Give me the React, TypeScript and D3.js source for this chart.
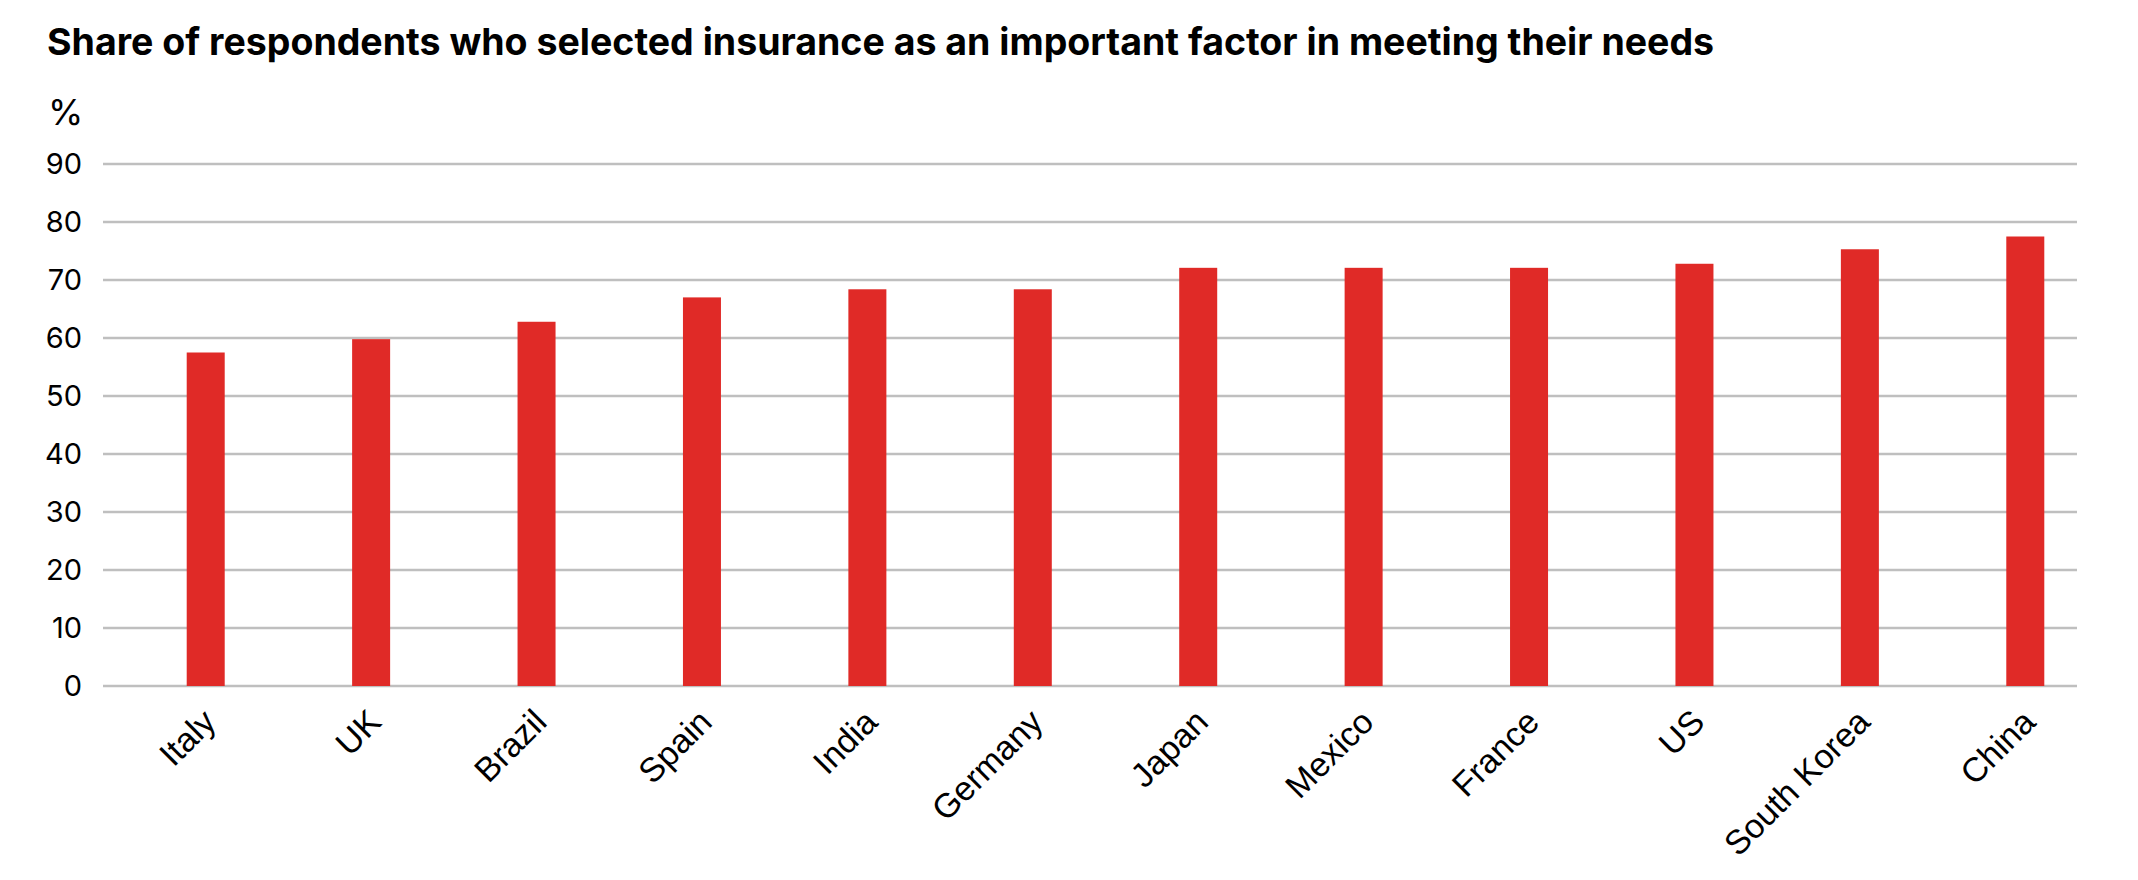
import { useEffect, useRef } from "react";
import * as d3 from "d3";

const countries = ["Italy", "UK", "Brazil", "Spain", "India", "Germany", "Japan", "Mexico", "France", "US", "South Korea", "China"];
const shares = [57.5, 59.8, 62.8, 67.0, 68.4, 68.4, 72.1, 72.1, 72.1, 72.8, 75.3, 77.5];
const yTicks = [0, 10, 20, 30, 40, 50, 60, 70, 80, 90];

const title = "Share of respondents who selected insurance as an important factor in meeting their needs";

const InsuranceChart = () => {
  const svgRef = useRef<SVGSVGElement>(null);

  useEffect(() => {
    if (!svgRef.current) return;
    const svg = d3.select(svgRef.current);
    svg.selectAll("*").remove();

    const font = "Inter, 'Noto Sans', sans-serif";
    const labelFont = "'Liberation Sans', Arial, sans-serif";
    const gridX0 = 103, gridX1 = 2077;

    const x = d3.scaleBand<string>().domain(countries).range([123, 2108]);
    const y = d3.scaleLinear().domain([0, 90]).range([686, 164]);
    const barW = 38;

    svg.append("text")
      .attr("x", 47)
      .attr("y", 55)
      .attr("font-family", font)
      .attr("font-weight", 700)
      .attr("font-size", 37.5)
      .attr("fill", "#000")
      .text(title);

    svg.append("text")
      .attr("x", 48)
      .attr("y", 125)
      .attr("font-family", font)
      .attr("font-size", 36)
      .attr("fill", "#000")
      .text("%");

    // gridlines + y labels
    const yAxis = svg.append("g");
    yAxis.selectAll("line")
      .data(yTicks)
      .join("line")
      .attr("x1", gridX0)
      .attr("x2", gridX1)
      .attr("y1", (d) => y(d))
      .attr("y2", (d) => y(d))
      .attr("stroke", "#bfbfbf")
      .attr("stroke-width", 2.5);

    yAxis.selectAll("text")
      .data(yTicks)
      .join("text")
      .attr("x", 82)
      .attr("y", (d) => y(d))
      .attr("dy", "0.36em")
      .attr("text-anchor", "end")
      .attr("font-family", font)
      .attr("font-size", 29)
      .attr("fill", "#000")
      .text((d) => d);

    svg.append("g")
      .selectAll("rect")
      .data(shares)
      .join("rect")
      .attr("x", (_, i) => x(countries[i])! + x.bandwidth() / 2 - barW / 2)
      .attr("y", (d) => y(d))
      .attr("width", barW)
      .attr("height", (d) => y(0) - y(d))
      .attr("fill", "#e02a27");

    svg.append("g")
      .selectAll("text")
      .data(countries)
      .join("text")
      .attr("transform", (d) => `translate(${x(d)! + x.bandwidth() / 2 + 12},724) rotate(-45)`)
      .attr("text-anchor", "end")
      .attr("font-family", labelFont)
      .attr("font-size", 34)
      .attr("fill", "#000")
      .text((d) => d);
  }, []);

  return <svg ref={svgRef} width={2138} height={880} style={{ display: "block", background: "#fff" }} />;
};

export default function App() {
  return (
    <div style={{ position: "absolute", left: 0, top: 0 }}>
      <InsuranceChart />
    </div>
  );
}
